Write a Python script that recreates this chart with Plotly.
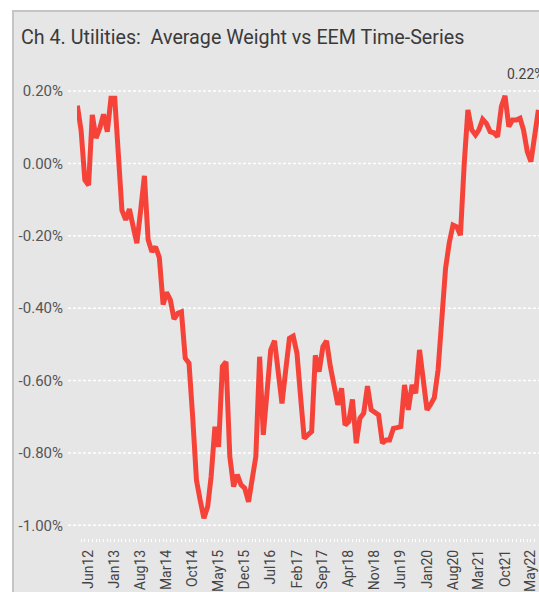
import pandas as pd
import plotly.graph_objects as go

# Monthly average weight vs EEM (%), Mar 2012 .. Jul 2022
start_month = "2012-03-01"
weights = [
    0.16, 0.09, -0.045, -0.06, 0.134, 0.07, 0.098, 0.136, 0.088, 0.18,
    0.18, 0.04, -0.13, -0.156, -0.126, -0.175, -0.22, -0.13, -0.034, -0.21,
    -0.244, -0.23, -0.26, -0.39, -0.356, -0.377, -0.43, -0.414, -0.41, -0.538,
    -0.552, -0.70, -0.875, -0.93, -0.98, -0.948, -0.865, -0.727, -0.783, -0.561,
    -0.548, -0.81, -0.893, -0.86, -0.888, -0.897, -0.935, -0.87, -0.81, -0.534,
    -0.75, -0.63, -0.515, -0.49, -0.58, -0.663, -0.57, -0.483, -0.477, -0.525,
    -0.64, -0.76, -0.75, -0.741, -0.53, -0.575, -0.506, -0.49, -0.561, -0.615,
    -0.667, -0.621, -0.723, -0.713, -0.652, -0.773, -0.704, -0.69, -0.615, -0.681,
    -0.687, -0.695, -0.773, -0.764, -0.764, -0.732, -0.73, -0.727, -0.612, -0.681,
    -0.612, -0.635, -0.515, -0.60, -0.681, -0.665, -0.647, -0.57, -0.43, -0.29,
    -0.22, -0.17, -0.175, -0.198, 0.0, 0.148, 0.093, 0.079, 0.093, 0.122,
    0.111, 0.088, 0.085, 0.074, 0.157, 0.187, 0.102, 0.12, 0.12, 0.125,
    0.093, 0.033, 0.005, 0.074, 0.148,
]
dates = pd.date_range(start_month, periods=len(weights), freq="MS")

y_ticks = [0.20, 0.00, -0.20, -0.40, -0.60, -0.80, -1.00]
y_tick_labels = ["0.20%", "0.00%", "-0.20%", "-0.40%", "-0.60%", "-0.80%", "-1.00%"]
label_text = "0.22%"
label_date = "2021-10-01"
label_value = 0.22
title_text = "Ch 4. Utilities:\u00a0\u00a0Average Weight vs EEM Time-Series"

W, H = 539, 592
ML, MR, MT, MB = 77, 0, 60, 50
pw = W - ML - MR
ph = H - MT - MB
PANEL_X, PANEL_Y = 13, 11  # panel left/top edge in pixels


def px_x(p):
    return (p - ML) / pw


def px_y(p):
    return (H - MB - p) / ph


fig = go.Figure()
fig.add_trace(go.Scatter(
    x=dates, y=weights, mode="lines",
    line=dict(color="#F5433A", width=5),
    hoverinfo="skip", showlegend=False,
))

shapes = []
for v in y_ticks:
    shapes.append(dict(type="line", xref="paper", yref="y",
                       x0=px_x(68), x1=1.0, y0=v, y1=v,
                       line=dict(color="white", width=1.5, dash="3px,2px"),
                       layer="below"))
# white outer strips (left and top) and gray panel border
shapes += [
    dict(type="rect", xref="paper", yref="paper",
         x0=px_x(-5), x1=px_x(PANEL_X - 1), y0=px_y(H + 5), y1=px_y(-5),
         fillcolor="white", line=dict(width=0), layer="above"),
    dict(type="rect", xref="paper", yref="paper",
         x0=px_x(-5), x1=px_x(W + 5), y0=px_y(PANEL_Y - 1), y1=px_y(-5),
         fillcolor="white", line=dict(width=0), layer="above"),
    dict(type="line", xref="paper", yref="paper",
         x0=px_x(PANEL_X), x1=px_x(PANEL_X), y0=px_y(H + 5), y1=px_y(PANEL_Y - 1),
         line=dict(color="#c4c4c4", width=2), layer="above"),
    dict(type="line", xref="paper", yref="paper",
         x0=px_x(PANEL_X - 1), x1=px_x(W + 5), y0=px_y(PANEL_Y), y1=px_y(PANEL_Y),
         line=dict(color="#c4c4c4", width=2), layer="above"),
]

fig.update_layout(
    width=W, height=H,
    margin=dict(l=ML, r=MR, t=MT, b=MB),
    paper_bgcolor="#e6e6e6",
    plot_bgcolor="#e6e6e6",
    font=dict(family="Roboto", color="#555555"),
    shapes=shapes,
    title=dict(text=title_text, x=21 / W, xref="container", xanchor="left",
               y=1 - 37 / H, yref="container", yanchor="middle",
               font=dict(size=19.7, color="#3a3a3a", family="Roboto")),
    annotations=[dict(x=label_date, y=label_value, xref="x", yref="y",
                      text=label_text, showarrow=False, xanchor="left",
                      yanchor="bottom", font=dict(size=14, color="#444444"))],
    xaxis=dict(
        type="date",
        range=["2012-02-27", "2022-07-06"],
        tick0="2012-06-01", dtick="M7", tickformat="%b%y",
        tickangle=-90, showgrid=False, zeroline=False, showline=False,
        ticks="inside", ticklen=3, tickcolor="white", tickwidth=1,
        minor=dict(dtick="M1", ticks="inside", ticklen=3, tickcolor="white", tickwidth=1),
        tickfont=dict(size=14, color="#444444"),
        ticklabelstandoff=4,
    ),
    yaxis=dict(
        range=[-1.046, 0.286],
        tickvals=y_ticks, ticktext=y_tick_labels,
        showgrid=False, zeroline=False, showline=False,
        tickfont=dict(size=15, color="#555555"),
        ticklabelstandoff=13,
    ),
)

fig.write_html("out.html", config={"displayModeBar": False},
               post_script="document.body.style.margin='0';document.body.style.overflow='hidden';")
